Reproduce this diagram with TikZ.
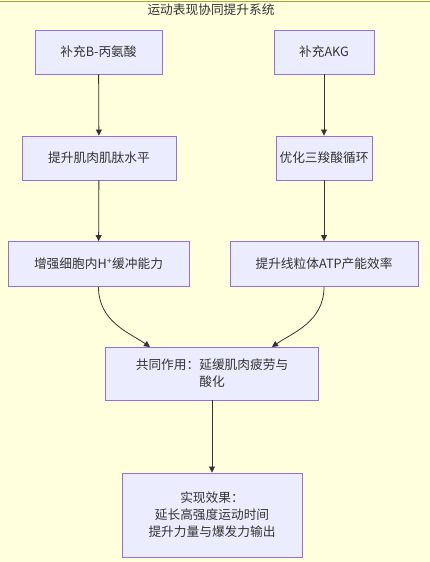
\documentclass[tikz,border=0pt]{standalone}
\usepackage{fontspec}
\setmainfont{Noto Sans CJK SC}
\usetikzlibrary{arrows.meta}
\definecolor{bgc}{HTML}{FFFFDE}
\definecolor{bgs}{HTML}{AAAA33}
\definecolor{nf}{HTML}{ECECFF}
\definecolor{ns}{HTML}{9370DB}
\definecolor{tc}{HTML}{333333}
\begin{document}
\begin{tikzpicture}[x=1pt,y=-1pt,
  box/.style={draw=ns,fill=nf,line width=0.9pt,text=tc,font=\fontsize{12.7}{17}\selectfont,align=center,inner sep=0pt},
  arr/.style={draw=tc,line width=0.8pt,-{Triangle[length=6pt,width=6pt]}}]
\useasboundingbox (0,0) rectangle (430,562);
\fill[bgc] (0,0) rectangle (430,562);
\draw[bgs,line width=0.8pt] (0,1) -- (430,1);
\node[text=tc,font=\fontsize{12.7}{15}\selectfont] (title) at (211,10) {运动表现协同提升系统};
\node[box,minimum width=127pt,minimum height=44pt] (n1) at (98.5,52) {补充B-丙氨酸};
\node[box,minimum width=100pt,minimum height=44pt] (n2) at (324,52) {补充AKG};
\node[box,minimum width=154pt,minimum height=44pt] (n3) at (99,158) {提升肌肉肌肽水平};
\node[box,minimum width=96pt,minimum height=44pt] (n4) at (324,158) {优化三羧酸循环};
\node[box,minimum width=181pt,minimum height=45pt] (n5) at (98.5,264) {增强细胞内H\textsuperscript{+}缓冲能力};
\node[box,minimum width=188pt,minimum height=45pt] (n6) at (324,264) {提升线粒体ATP产能效率};
\node[box,minimum width=213pt,minimum height=53pt] (n7) at (212,373.5) {共同作用：延缓肌肉疲劳与\\酸化};
\node[box,minimum width=180pt,minimum height=84pt] (n8) at (212,515) {实现效果：\\延长高强度运动时间\\提升力量与爆发力输出};
\draw[arr] (n1) -- (n3);
\draw[arr] (n2) -- (n4);
\draw[arr] (n3) -- (n5);
\draw[arr] (n4) -- (n6);
\coordinate (t7a) at (150,347);
\coordinate (t7b) at (272,347);
\draw[arr] (n5.south) .. controls (98.5,322) and (130,333) .. (t7a);
\draw[arr] (n6.south) .. controls (324,322) and (292,333) .. (t7b);
\draw[arr] (n7) -- (n8);
\end{tikzpicture}
\end{document}
